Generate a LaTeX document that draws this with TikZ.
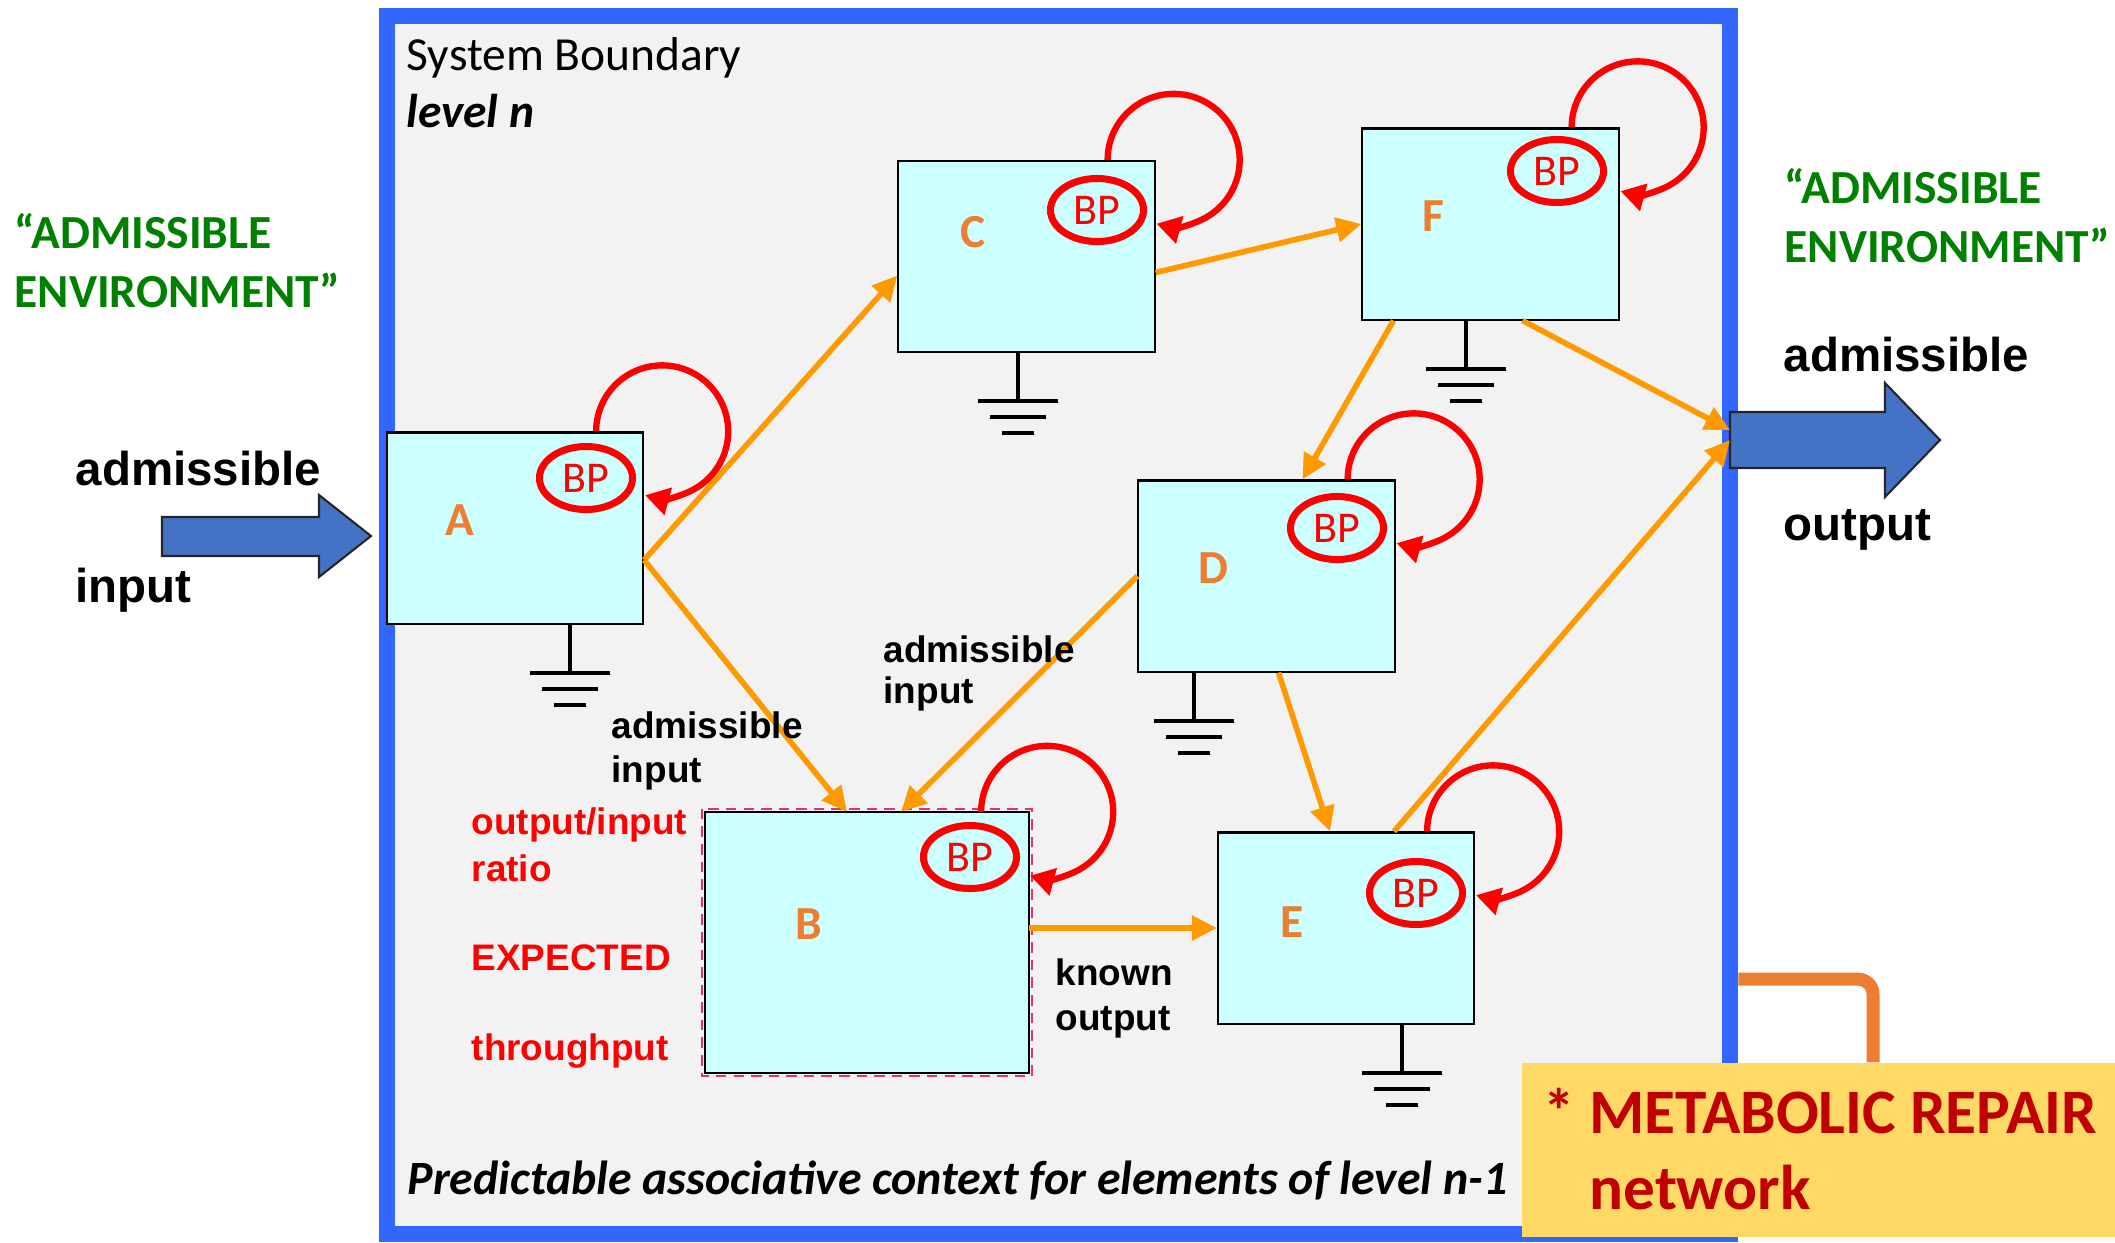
\documentclass[tikz,border=0pt]{standalone}
\usepackage{fontspec}
\setmainfont{Carlito}
\newfontfamily\arialfont{Liberation Sans}
\usetikzlibrary{
  arrows.meta,
  shapes.geometric
}
\definecolor{sysblue}{HTML}{3366FF}
\definecolor{panel}{HTML}{F2F2F2}
\definecolor{cellcyan}{HTML}{CCFFFF}
\definecolor{flowgold}{HTML}{FF9900}
\definecolor{tagorange}{HTML}{ED7D31}
\definecolor{bpred}{HTML}{FF0000}
\definecolor{envgreen}{HTML}{008000}
\definecolor{arrowblue}{HTML}{4472C4}
\definecolor{notegold}{HTML}{FFD966}
\definecolor{notered}{HTML}{C00000}
\definecolor{dashpink}{HTML}{E0307A}
\tikzset{
  boundary/.style={
    draw=sysblue,
    fill=panel,
    line width=4.5pt,
    minimum width=13.43cm,
    minimum height=12.18cm,
    inner sep=0pt
  },
  subsys/.style={
    draw=black,
    fill=cellcyan,
    line width=0.6pt,
    minimum width=2.56cm,
    minimum height=1.91cm,
    inner sep=0pt
  },
  tag/.style={
    text=tagorange,
    inner sep=0pt,
    font=\fontsize{13.5}{13.5}\selectfont\bfseries
  },
  bp/.style={
    ellipse,
    draw=bpred,
    line width=2pt,
    minimum width=0.93cm,
    minimum height=0.63cm,
    inner sep=0pt,
    text=bpred,
    font=\fontsize{12.5}{12.5}\selectfont
  },
  selfloop/.style={
    -{Triangle[length=2.4mm,width=2.7mm]},
    line width=1.8pt,
    draw=bpred
  },
  flow/.style={
    -{Triangle[length=2.5mm,width=2.4mm]},
    line width=1.6pt,
    draw=flowgold
  },
  earthline/.style={
    draw=black,
    line width=1.1pt
  },
  blockarrow/.style={
    fill=arrowblue,
    draw=black!85,
    line width=0.6pt
  },
  repairlink/.style={
    draw=tagorange,
    line width=3.7pt,
    rounded corners=1.5mm
  },
  pinkdash/.style={
    draw=dashpink,
    densely dashed,
    line width=0.6pt
  },
  bigword/.style={
    anchor=base west,
    align=left,
    inner sep=0pt,
    font=\arialfont\bfseries\fontsize{13.5}{33}\selectfont
  },
  smallword/.style={
    anchor=base west,
    align=left,
    inner sep=0pt,
    font=\arialfont\bfseries\fontsize{10.5}{12.5}\selectfont
  },
  envword/.style={
    anchor=base west,
    align=left,
    inner sep=0pt,
    text=envgreen,
    font=\bfseries\fontsize{13.5}{16.5}\selectfont
  }
}

\begin{document}
\begin{tikzpicture}[x=0.01cm, y=-0.01cm]
  \useasboundingbox (0,0) rectangle (2115,1242);
  \node[boundary] (sys) at (1058.5,625) {};

  % elements of level n-1
  \node[subsys] (A) at (515,528) {};
  \node[subsys] (C) at (1026.5,256.5) {};
  \node[subsys] (F) at (1490.5,224) {};
  \node[subsys] (D) at (1266.5,576) {};
  \node[subsys, minimum width=3.22cm, minimum height=2.59cm] (B) at (867,942.5) {};
  \node[subsys] (E) at (1346,928) {};
  \draw[pinkdash] ([shift={(-3,-3)}]B.north west) rectangle ([shift={(3,3)}]B.south east);
  \draw[subsys] (B.north west) rectangle (B.south east);

  \node[tag] (tagA) at (460,520) {A};
  \node[tag] (tagC) at (973,232) {C};
  \node[tag] (tagF) at (1433,216) {F};
  \node[tag] (tagD) at (1213,568) {D};
  \node[tag] (tagB) at (809,924) {B};
  \node[tag] (tagE) at (1292,922) {E};

  \node[bp] (bpA) at (586,478) {BP};
  \node[bp] (bpC) at (1097,210) {BP};
  \node[bp] (bpF) at (1557,171) {BP};
  \node[bp] (bpD) at (1337,528) {BP};
  \node[bp] (bpB) at (970,857) {BP};
  \node[bp] (bpE) at (1416,893) {BP};

  \foreach \u in {A,B,C,D,E,F}{
    \draw[selfloop] ([xshift=-0.48cm]\u.north east)
      arc[start angle=180, end angle=-105, radius=0.66cm];
  }
  \foreach \u/\dx in {A/55,C/-8.5,F/-24.5,D/-72.5,E/56}{
    \draw[earthline] ([shift={(\dx,0)}]\u.south) -- ++(0,48)
      ++(-40,0) -- ++(80,0) ++(-68,16) -- ++(56,0) ++(-44,16) -- ++(32,0);
  }

  % admissible input and output
  \draw[blockarrow] (162,517) -- (319,517) -- (319,495) -- (371,536)
    -- (319,577) -- (319,556) -- (162,556) -- cycle;
  \draw[blockarrow] (1730,412) -- (1885,412) -- (1885,383) -- (1940,440)
    -- (1885,497) -- (1885,468) -- (1730,468) -- cycle;
  \coordinate (outport) at (1730,436);

  \draw[flow] ([yshift=-0.32cm]A.east) -- ([yshift=-0.19cm]C.west);
  \draw[flow] ([yshift=-0.32cm]A.east) -- ([xshift=-0.20cm]B.north);
  \draw[flow] ([yshift=-0.16cm]C.east) -- (F.west);
  \draw[flow] ([xshift=-0.97cm]F.south) -- ([xshift=0.36cm]D.north);
  \draw[flow] ([xshift=0.32cm]F.south) -- ([yshift=0.06cm]outport);
  \draw[flow] (D.west) -- ([xshift=0.34cm]B.north);
  \draw[flow] ([xshift=0.12cm]D.south) -- ([xshift=-0.16cm]E.north);
  \draw[flow] ([yshift=0.145cm]B.east) -- (E.west);
  \draw[flow] ([xshift=0.48cm]E.north) -- ([yshift=-0.04cm]outport);

  % texts (base west = baseline of the last line)
  \node[anchor=base west, align=left, inner sep=0pt,
    font=\fontsize{13.5}{16}\selectfont] (title) at (406,127)
    {System Boundary\\\textbf{\textit{level n}}};
  \node[anchor=base west, inner sep=0pt,
    font=\bfseries\itshape\fontsize{13.6}{13.6}\selectfont] (context) at (407,1194)
    {Predictable associative context for elements of level n-1};
  \node[envword] (envL) at (14,307) {“ADMISSIBLE\\ENVIRONMENT”};
  \node[envword] (envR) at (1784,262) {“ADMISSIBLE\\ENVIRONMENT”};
  \node[bigword] (inL) at (75,602) {admissible\\input};
  \node[bigword, font=\arialfont\bfseries\fontsize{13.5}{48}\selectfont]
    (outR) at (1783,540) {admissible\\output};
  \node[smallword] (lblAB) at (611,782) {admissible\\input};
  \node[smallword, font=\arialfont\bfseries\fontsize{10.5}{11.5}\selectfont]
    (lblDB) at (883,703) {admissible\\input};
  \node[smallword, font=\arialfont\bfseries\fontsize{10.5}{12.8}\selectfont]
    (lblBE) at (1055,1030) {known\\output};
  \node[smallword, text=bpred, font=\arialfont\bfseries\fontsize{10.5}{13.4}\selectfont]
    (ratio) at (471,1060) {output/input\\ratio\\[12pt]EXPECTED\\[12pt]throughput};

  % metabolic repair note
  \node[fill=notegold, minimum width=5.93cm, minimum height=1.74cm, inner sep=0pt]
    (repair) at (1818.5,1150) {};
  \draw[repairlink] ([xshift=0.545cm]repair.north) |- ([yshift=-3.54cm]sys.east);
  \node[anchor=base west, align=left, inner sep=0pt, text=notered,
    font=\bfseries\fontsize{18}{21.6}\selectfont] (repairtext) at (1543,1209)
    {*~METABOLIC REPAIR\\\phantom{*~}network};
\end{tikzpicture}
\end{document}
